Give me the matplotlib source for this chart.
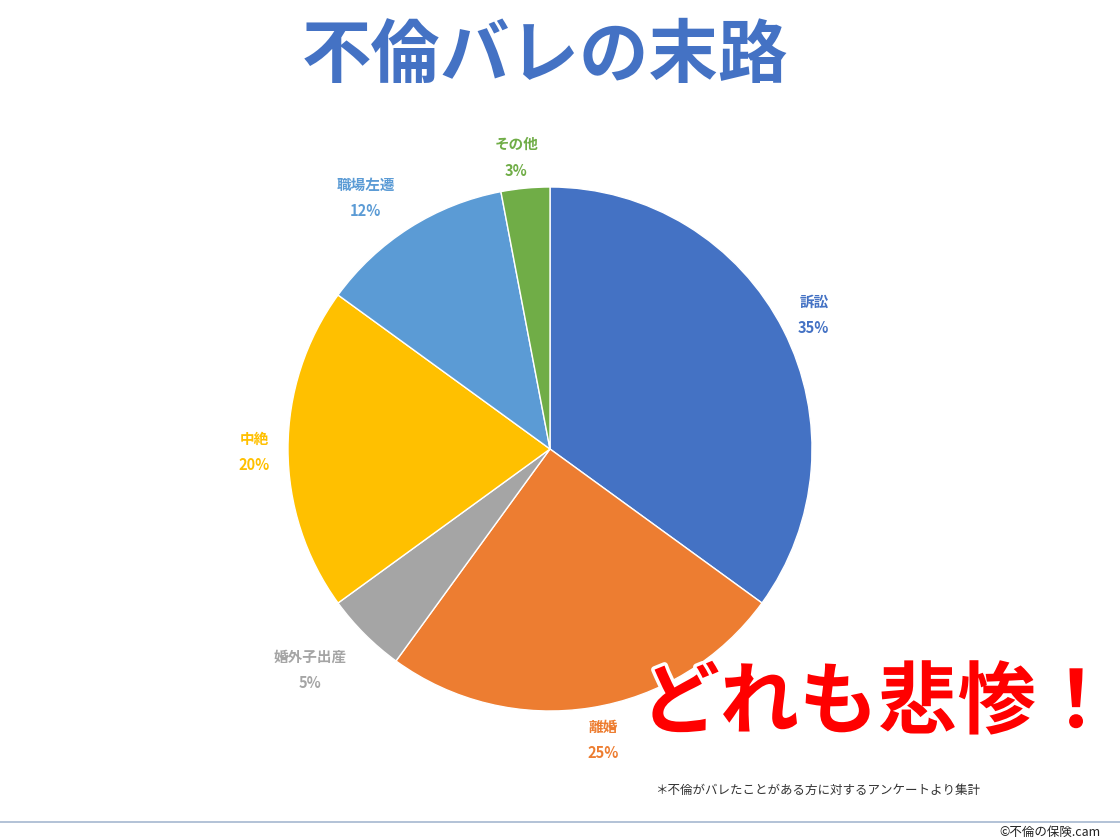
import numpy as np
import matplotlib
matplotlib.use("Agg")
import matplotlib.pyplot as plt
import matplotlib.patheffects as pe

plt.rcParams['font.family'] = ['Noto Sans CJK JP', 'DejaVu Sans']

# data (clockwise from 12 o'clock)
categories = ['訴訟', '離婚', '婚外子出産', '中絶', '職場左遷', 'その他']
shares = [35, 25, 5, 20, 12, 3]
colors = ['#4472C4', '#ED7D31', '#A5A5A5', '#FFC000', '#5B9BD5', '#70AD47']
# label placement: distance from centre (radii) and angular nudge (deg)
label_dist = [1.13, 1.13, 1.245, 1.13, 1.19, 1.12]
label_nudge = [0, 1.3, -2.4, 0.6, 3.9, 1.2]

title = '不倫バレの末路'
slogan = 'どれも悲惨！'
footnote = '＊不倫がバレたことがある方に対するアンケートより集計'
credit = '©不倫の保険.cam'

fig = plt.figure(figsize=(11.2, 8.4), dpi=100)
fig.patch.set_facecolor('white')

ax = fig.add_axes([288 / 1120, 129 / 840, 524 / 1120, 524 / 840])
wedges, _ = ax.pie(shares, colors=colors, startangle=90, counterclock=False,
                   radius=1, wedgeprops=dict(edgecolor='white', linewidth=1))
ax.set_xlim(-1, 1)
ax.set_ylim(-1, 1)
ax.set_aspect('equal')
ax.axis('off')

# data labels outside each slice
for w, cat, val, col, d, nd in zip(wedges, categories, shares, colors,
                                   label_dist, label_nudge):
    ang = np.deg2rad((w.theta1 + w.theta2) / 2 + nd)
    x, y = d * np.cos(ang), d * np.sin(ang)
    ax.text(x, y, f'{cat}\n{val}%', ha='center', va='center', color=col,
            fontsize=10.5, fontweight='bold', linespacing=1.8, clip_on=False)

fig.text(0.487, 1 - 57 / 840, title, ha='center', va='center', color='#4472C4',
         fontsize=50, fontweight='bold')
fig.text(878 / 1120, 1 - 704 / 840, slogan, ha='center', va='center',
         color='#FF0000', fontsize=57, fontweight='bold',
         path_effects=[pe.withStroke(linewidth=5, foreground='white')])
fig.text(0.585, 1 - 790 / 840, footnote, ha='left', va='center', color='#333333',
         fontsize=9)

fig.add_artist(plt.Line2D([0, 1], [1 - 822 / 840] * 2, color='#A6B8CF',
                          linewidth=1.2, transform=fig.transFigure))
fig.text(0.983, 1 - 832 / 840, credit, ha='right', va='center', color='#222222',
         fontsize=9)

fig.savefig('out.png', dpi=100, facecolor='white')
